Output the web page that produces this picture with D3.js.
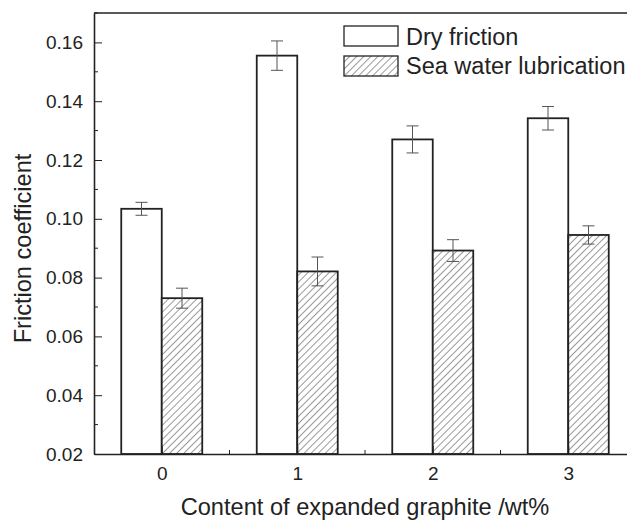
<!DOCTYPE html>
<html>
<head>
<meta charset="utf-8">
<script src="https://cdn.jsdelivr.net/npm/d3@7"></script>
<style>
  body { margin: 0; background: #fff; }
  svg { display: block; font-family: "Liberation Sans", Arial, sans-serif; }
</style>
</head>
<body>
<svg id="plot"></svg>
<script>
const width = 627;
const height = 520;

const categories = [0, 1, 2, 3];
const seriesNames = ['Dry friction', 'Sea water lubrication'];
const dryValues = [0.1034, 0.1555, 0.1270, 0.1342];
const dryErrors = [0.0022, 0.0050, 0.0046, 0.0040];
const seaValues = [0.0730, 0.0821, 0.0892, 0.0945];
const seaErrors = [0.0034, 0.0049, 0.0037, 0.0031];
const yTicks = [0.02, 0.04, 0.06, 0.08, 0.10, 0.12, 0.14, 0.16];

const plotLeft = 94, plotTop = 13, plotBottom = 454;
const plotRight = 636;   // plot runs past the picture edge
const barW = 40.5;

function main(){
  let svg = d3.select('svg#plot')
  .attr('width', width)
  .attr('height', height);

  let defs = svg.append('defs');
  let pat = defs.append('pattern')
  .attr('id', 'hatch')
  .attr('patternUnits', 'userSpaceOnUse')
  .attr('width', 5)
  .attr('height', 5)
  .attr('patternTransform', 'rotate(45)');
  pat.append('rect').attr('width', 5).attr('height', 5).attr('fill', 'white');
  pat.append('line')
  .attr('x1', 0).attr('y1', 0).attr('x2', 0).attr('y2', 5)
  .attr('stroke', '#333').attr('stroke-width', 1);

  let sx = d3.scaleLinear().domain([-0.5, 3.5]).range([plotLeft, plotRight]);
  let sy = d3.scaleLinear().domain([0.02, 0.17]).range([plotBottom, plotTop]);

  let rows = categories.map((c, i) => ({
    c: c,
    dry: dryValues[i], dryErr: dryErrors[i],
    sea: seaValues[i], seaErr: seaErrors[i]
  }));

  // bars
  let g = svg.append('g');
  g.selectAll('.dry').data(rows).enter().append('rect')
  .attr('class', 'dry')
  .attr('x', d => sx(d.c) - barW)
  .attr('y', d => sy(d.dry))
  .attr('width', barW)
  .attr('height', d => sy(0.02) - sy(d.dry))
  .attr('fill', 'white')
  .attr('stroke', '#222')
  .attr('stroke-width', 1.8);

  g.selectAll('.sea').data(rows).enter().append('rect')
  .attr('class', 'sea')
  .attr('x', d => sx(d.c))
  .attr('y', d => sy(d.sea))
  .attr('width', barW)
  .attr('height', d => sy(0.02) - sy(d.sea))
  .attr('fill', 'url(#hatch)')
  .attr('stroke', '#222')
  .attr('stroke-width', 1.8);

  // error bars
  let errs = [];
  rows.forEach(d => {
    errs.push({x: sx(d.c) - barW / 2, v: d.dry, e: d.dryErr});
    errs.push({x: sx(d.c) + barW / 2, v: d.sea, e: d.seaErr});
  });
  let eg = svg.append('g')
  .attr('stroke', '#555')
  .attr('stroke-width', 1)
  .attr('fill', 'none');
  errs.forEach(d => {
    let path = d3.path();
    path.moveTo(d.x, sy(d.v + d.e)); path.lineTo(d.x, sy(d.v - d.e));
    path.moveTo(d.x - 6, sy(d.v + d.e)); path.lineTo(d.x + 6, sy(d.v + d.e));
    path.moveTo(d.x - 6, sy(d.v - d.e)); path.lineTo(d.x + 6, sy(d.v - d.e));
    eg.append('path').attr('d', path.toString());
  });

  // axes
  let ay = d3.axisLeft(sy)
  .tickValues(yTicks)
  .tickFormat(d3.format('.2f'))
  .tickSizeInner(-8)
  .tickSizeOuter(0)
  .tickPadding(11);
  let gy = svg.append('g')
  .attr('transform', `translate(${plotLeft},0)`)
  .call(ay);
  let minorY = d3.range(0.03, 0.17, 0.02);
  gy.selectAll('.minor').data(minorY).enter().append('line')
  .attr('class', 'minor')
  .attr('x1', 0).attr('x2', 4)
  .attr('y1', d => sy(d)).attr('y2', d => sy(d))
  .attr('stroke', '#222');

  let ax = d3.axisBottom(sx)
  .tickValues(categories)
  .tickFormat(d3.format('d'))
  .tickSizeInner(-8)
  .tickSizeOuter(0)
  .tickPadding(13);
  let gx = svg.append('g')
  .attr('transform', `translate(0,${plotBottom})`)
  .call(ax);
  gx.selectAll('.minor').data([0.5, 1.5, 2.5]).enter().append('line')
  .attr('class', 'minor')
  .attr('x1', d => sx(d)).attr('x2', d => sx(d))
  .attr('y1', 0).attr('y2', -4)
  .attr('stroke', '#222');

  [gx, gy].forEach(a => {
    a.select('.domain').attr('stroke', '#222').attr('stroke-width', 1.6);
    a.selectAll('.tick line').attr('stroke', '#222');
    a.selectAll('text').attr('font-size', 19).attr('fill', '#222')
    .attr('font-family', '"Liberation Sans", Arial, sans-serif');
  });

  // top frame line
  svg.append('line')
  .attr('x1', plotLeft).attr('x2', plotRight)
  .attr('y1', plotTop).attr('y2', plotTop)
  .attr('stroke', '#222').attr('stroke-width', 1.6);

  // titles
  svg.append('text')
  .attr('x', sx(1.5)).attr('y', 514.5)
  .attr('text-anchor', 'middle')
  .attr('font-size', 23.6).attr('fill', '#222')
  .text('Content of expanded graphite /wt%');

  svg.append('text')
  .attr('transform', 'translate(31,248.5) rotate(-90)')
  .attr('text-anchor', 'middle')
  .attr('font-size', 23.6).attr('fill', '#222')
  .text('Friction coefficient');

  // legend
  let lg = svg.append('g').attr('transform', 'translate(344,26)');
  let fills = ['white', 'url(#hatch)'];
  lg.selectAll('rect').data(seriesNames).enter().append('rect')
  .attr('x', 0).attr('y', (d, i) => i * 30)
  .attr('width', 54).attr('height', 20)
  .attr('fill', (d, i) => fills[i])
  .attr('stroke', '#222').attr('stroke-width', 1.3);
  lg.selectAll('text').data(seriesNames).enter().append('text')
  .attr('x', 62).attr('y', (d, i) => i * 29 + 19)
  .attr('font-size', 23.5).attr('fill', '#222')
  .text(d => d);
}

document.addEventListener('DOMContentLoaded', main);
</script>
</body>
</html>
